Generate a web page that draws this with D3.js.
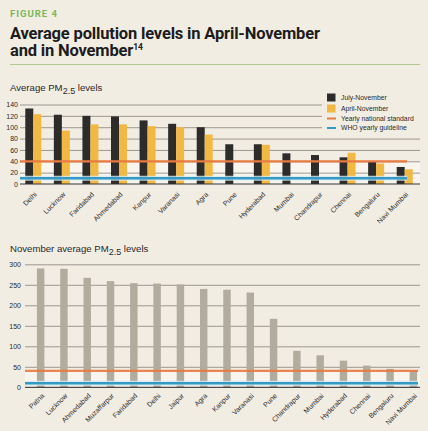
<!DOCTYPE html>
<html><head><meta charset="utf-8">
<script src="https://cdn.jsdelivr.net/npm/d3@7"></script>
<style>
html,body{margin:0;padding:0;background:#f2ede3;}
svg{display:block;font-family:"Liberation Sans",Arial,sans-serif;}
</style></head>
<body>
<script>
// ---- data ----
const topCities = ["Delhi","Lucknow","Faridabad","Ahmedabad","Kanpur","Varanasi","Agra","Pune","Hyderabad","Mumbai","Chandrapur","Chennai","Bengaluru","Navi Mumbai"];
const julyNov  = [133,122,120,119,112,106,100,70,70,54,51,47,39,30];
const aprilNov = [123,94,105,105,102,100,87,null,69,null,null,55,36,26];
const topTicks = [0,20,40,60,80,100,120,140];

const botCities = ["Patna","Lucknow","Ahmedabad","Muzaffarpur","Faridabad","Delhi","Jaipur","Agra","Kanpur","Varanasi","Pune","Chandrapur","Mumbai","Hyderabad","Chennai","Bengaluru","Navi Mumbai"];
const novValues = [290,289,267,259,254,253,251,240,238,231,167,89,78,65,53,45,41];
const botTicks = [0,50,100,150,200,250,300];

const nationalStandard = 40;
const whoGuideline = 10;
const legendLabels = ["July-November","April-November","Yearly national standard","WHO yearly guideline"];

// ---- drawing ----
const W = 428, H = 431;
const C = {bg:"#f2ede3", pale:"#f8f5ee", grid:"#77716a", dark:"#2d2c2b", yellow:"#f2b844",
  orange:"#e97a42", blue:"#3499c4", grey:"#b2ac9f", green:"#7cb85a", sep:"#b4c896", text:"#2a2a2a"};
const FONT = "Liberation Sans,Arial,sans-serif";
const TFONT = "Roboto,Inter,Liberation Sans,sans-serif";

const svg = d3.select("body").append("svg").attr("width",W).attr("height",H);
svg.append("rect").attr("width",W).attr("height",H).attr("fill",C.bg);

function fitText(sel, target){
  const n = sel.text().length;
  const w = sel.node().getComputedTextLength();
  sel.attr("letter-spacing", ((target - w)/(n-1)).toFixed(3));
}

// Header
svg.append("text").attr("x",10).attr("y",17).attr("font-size",9.6).attr("font-weight","bold")
  .attr("font-family",TFONT).attr("fill",C.green).text("FIGURE 4").call(s=>fitText(s,47));
const t1 = svg.append("text").attr("x",10).attr("y",38.5).attr("font-size",16.5).attr("font-weight","bold")
  .attr("font-family",TFONT).attr("fill","#1c1c1c").text("Average pollution levels in April-November");
fitText(t1,310);
const t2 = svg.append("text").attr("x",10).attr("y",56).attr("font-size",16.5).attr("font-weight","bold")
  .attr("font-family",TFONT).attr("fill","#1c1c1c").attr("letter-spacing", t1.attr("letter-spacing"));
t2.append("tspan").text("and in November");
t2.append("tspan").attr("font-size",8.5).attr("dy",-6.5).attr("letter-spacing",0).text("14");
svg.append("line").attr("x1",10).attr("x2",420).attr("y1",64.5).attr("y2",64.5)
  .attr("stroke",C.sep).attr("stroke-width",1);

function subTitle(x,y,pre){
  const t = svg.append("text").attr("x",x).attr("y",y).attr("font-size",9.6).attr("fill",C.text);
  t.append("tspan").text(pre+"PM");
  t.append("tspan").attr("dy",3).attr("font-size",9).text("2.5");
  t.append("tspan").attr("dy",-3).text(" levels");
  return t;
}
subTitle(10,91,"Average ");
subTitle(10,252,"November average ");

// ---------- top chart ----------
const yT = d3.scaleLinear().domain([0,140]).range([184,104.5]);
const xT = d3.scaleBand().domain(topCities).range([19,419]).paddingInner(0.44).paddingOuter(0.22);
const xSub = d3.scaleBand().domain(["jul","apr"]).range([0,xT.bandwidth()]);

const gT = svg.append("g");
gT.append("rect").attr("x",20).attr("width",400).attr("y",yT(nationalStandard)).attr("height",yT(0)-yT(nationalStandard)).attr("fill",C.pale);
gT.selectAll(".grid").data(topTicks.slice(1)).join("line")
  .attr("x1",20).attr("x2",420).attr("y1",d=>yT(d)+0.5).attr("y2",d=>yT(d)+0.5)
  .attr("stroke",C.grid).attr("stroke-width",0.7);

const yAxT = d3.axisLeft(yT).tickValues(topTicks).tickSize(0).tickPadding(0);
gT.append("g").attr("transform","translate(18,0)").call(yAxT)
  .call(g=>g.select(".domain").remove())
  .call(g=>g.selectAll("text").attr("font-size",7).attr("fill",C.text).attr("font-family",FONT));

const groups = gT.selectAll(".grp").data(topCities.map((c,i)=>({c,j:julyNov[i],a:aprilNov[i]}))).join("g")
  .attr("transform",d=>`translate(${xT(d.c)},0)`);
groups.append("rect").attr("x",xSub("jul")).attr("width",xSub.bandwidth())
  .attr("y",d=>yT(d.j)).attr("height",d=>yT(0)-yT(d.j)).attr("fill",C.dark);
groups.filter(d=>d.a!=null).append("rect").attr("x",xSub("apr")).attr("width",xSub.bandwidth())
  .attr("y",d=>yT(d.a)).attr("height",d=>yT(0)-yT(d.a)).attr("fill",C.yellow);

gT.append("line").attr("x1",20).attr("x2",420).attr("y1",yT(0)).attr("y2",yT(0)).attr("stroke","#333").attr("stroke-width",1);
gT.append("line").attr("x1",20).attr("x2",407).attr("y1",yT(nationalStandard)).attr("y2",yT(nationalStandard))
  .attr("stroke",C.orange).attr("stroke-width",2.2);
gT.append("line").attr("x1",20).attr("x2",407).attr("y1",yT(whoGuideline)).attr("y2",yT(whoGuideline))
  .attr("stroke","#d6ecf3").attr("stroke-width",5).attr("opacity",0.8);
gT.append("line").attr("x1",20).attr("x2",407).attr("y1",yT(whoGuideline)).attr("y2",yT(whoGuideline))
  .attr("stroke",C.blue).attr("stroke-width",2.4);

const xAxT = d3.axisBottom(xT).tickSize(0).tickPadding(0);
gT.append("g").attr("transform",`translate(0,${yT(0)})`).call(xAxT)
  .call(g=>g.select(".domain").remove())
  .call(g=>g.selectAll("text").attr("font-size",7).attr("fill",C.text).attr("font-family",FONT)
    .attr("text-anchor","end").attr("dy",0).attr("y",0)
    .attr("transform","translate(4,11) rotate(-45)"));

// legend
const lg = svg.append("g");
lg.append("rect").attr("x",322).attr("y",90).attr("width",106).attr("height",43).attr("fill",C.bg);
const lgY = [97.5,108.5,118.5,128];
lg.append("rect").attr("x",327).attr("y",lgY[0]-4).attr("width",8.5).attr("height",8).attr("fill",C.dark);
lg.append("rect").attr("x",327).attr("y",lgY[1]-4).attr("width",8.5).attr("height",8).attr("fill",C.yellow);
lg.append("line").attr("x1",327).attr("x2",336).attr("y1",lgY[2]).attr("y2",lgY[2]).attr("stroke",C.orange).attr("stroke-width",2);
lg.append("line").attr("x1",327).attr("x2",336).attr("y1",lgY[3]).attr("y2",lgY[3]).attr("stroke",C.blue).attr("stroke-width",2);
lg.selectAll(".lt").data(legendLabels).join("text").attr("x",341).attr("y",(d,i)=>lgY[i]+2.4)
  .attr("font-size",6.8).attr("fill",C.text).text(d=>d);

// ---------- bottom chart ----------
const yB = d3.scaleLinear().domain([0,300]).range([387.3,264.3]);
const xB = d3.scaleBand().domain(botCities).range([29,425]).paddingInner(0.68).paddingOuter(0.34);
const gB = svg.append("g");
gB.append("rect").attr("x",25).attr("width",395).attr("y",yB(nationalStandard)).attr("height",yB(0)-yB(nationalStandard)).attr("fill",C.pale);
gB.selectAll(".grid").data(botTicks.slice(1)).join("line")
  .attr("x1",25).attr("x2",420).attr("y1",d=>yB(d)+0.5).attr("y2",d=>yB(d)+0.5)
  .attr("stroke",C.grid).attr("stroke-width",0.7);
const yAxB = d3.axisLeft(yB).tickValues(botTicks).tickSize(0).tickPadding(0);
gB.append("g").attr("transform","translate(21,0)").call(yAxB)
  .call(g=>g.select(".domain").remove())
  .call(g=>g.selectAll("text").attr("font-size",7).attr("fill",C.text).attr("font-family",FONT));
gB.selectAll(".bar").data(botCities.map((c,i)=>({c,v:novValues[i]}))).join("rect")
  .attr("x",d=>xB(d.c)).attr("width",xB.bandwidth())
  .attr("y",d=>yB(d.v)).attr("height",d=>yB(0)-yB(d.v)).attr("fill",C.grey);
gB.append("line").attr("x1",25).attr("x2",420).attr("y1",yB(0)).attr("y2",yB(0)).attr("stroke","#222").attr("stroke-width",1);
gB.append("line").attr("x1",25).attr("x2",418).attr("y1",yB(nationalStandard)).attr("y2",yB(nationalStandard))
  .attr("stroke",C.orange).attr("stroke-width",2.2).attr("opacity",0.9);
gB.append("line").attr("x1",25).attr("x2",418).attr("y1",yB(whoGuideline)).attr("y2",yB(whoGuideline))
  .attr("stroke","#d6ecf3").attr("stroke-width",5).attr("opacity",0.8);
gB.append("line").attr("x1",25).attr("x2",418).attr("y1",yB(whoGuideline)).attr("y2",yB(whoGuideline))
  .attr("stroke",C.blue).attr("stroke-width",2.4);
const xAxB = d3.axisBottom(xB).tickSize(0).tickPadding(0);
gB.append("g").attr("transform",`translate(0,${yB(0)})`).call(xAxB)
  .call(g=>g.select(".domain").remove())
  .call(g=>g.selectAll("text").attr("font-size",7).attr("fill",C.text).attr("font-family",FONT)
    .attr("text-anchor","end").attr("dy",0).attr("y",0)
    .attr("transform","translate(4,9) rotate(-45)"));
</script>
</body></html>
